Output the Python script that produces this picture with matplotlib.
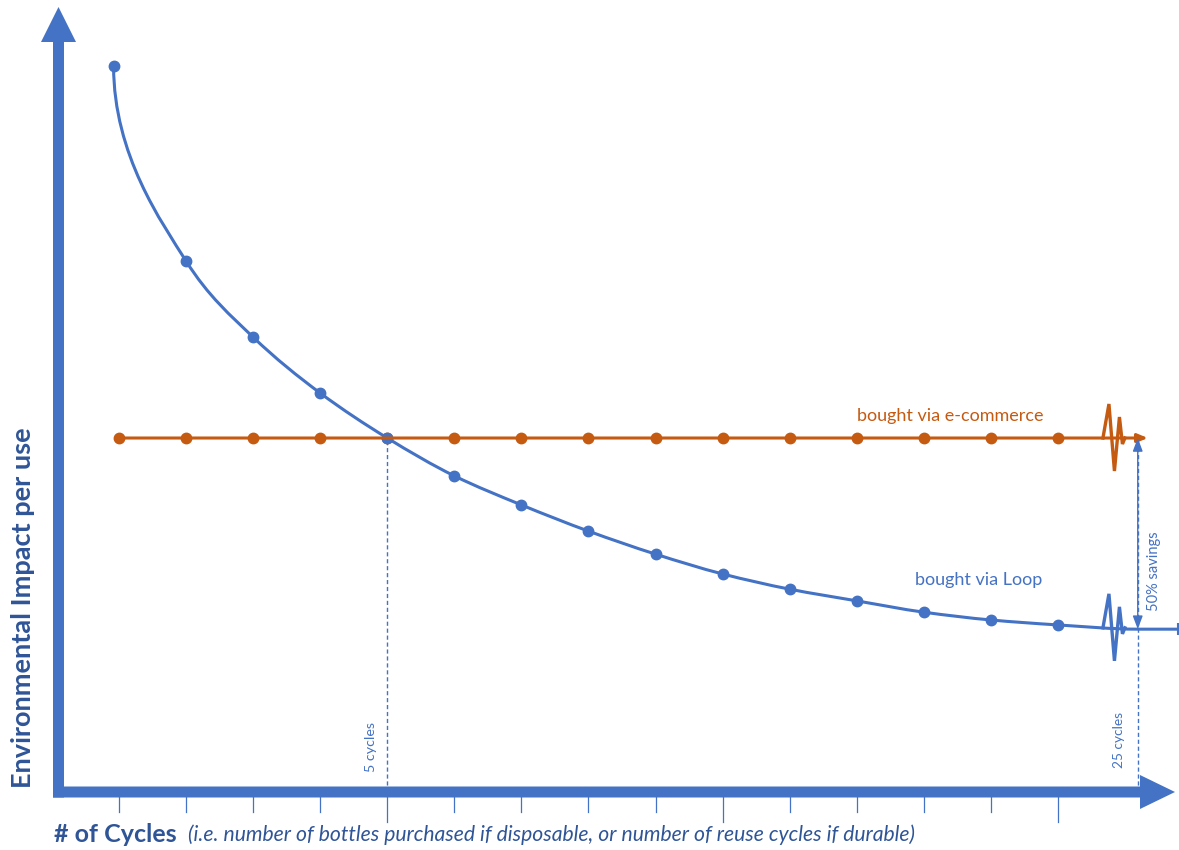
import numpy as np
import matplotlib
matplotlib.use("Agg")
import matplotlib.pyplot as plt
from matplotlib.path import Path
from matplotlib.patches import PathPatch, Polygon
from matplotlib.transforms import Affine2D

# ---- data (impact per use, e-commerce = 1) ----
cycles = [1, 2, 3, 4, 5, 6, 7, 8, 9, 10, 11, 12, 13, 14, 15]
loop_x = [0.92, 2, 3, 4, 5, 6, 7, 8, 9, 10, 11, 12, 13, 14, 15]
loop_impact = [2.05, 1.50, 1.285, 1.127, 1.0, 0.893, 0.811, 0.737, 0.672,
               0.616, 0.573, 0.540, 0.508, 0.486, 0.472]
ecom_impact = [1.0, 1.0, 1.0, 1.0, 1.0, 1.0, 1.0, 1.0, 1.0, 1.0, 1.0, 1.0,
               1.0, 1.0, 1.0]
far_cycle_label = "25 cycles"
far_cycle_pos = 16.19      # 25 cycles sits here, after the axis break
loop_far = 0.46
ecom_far = 1.0
break_pos = 15.82
even_cycle = 5

BLUE = "#4472C4"
ORANGE = "#C55A11"
DARK = "#2F5597"
W, H = 1179, 850

plt.rcParams['font.family'] = ['Lato', 'DejaVu Sans']

fig = plt.figure(figsize=(W / 100, H / 100), dpi=100)
ax = fig.add_axes([0, 0, 1, 1])
ax.axis('off')
ax.set_xlim(-0.7738, 16.805)
ax.set_ylim(-0.1638, 2.2373)

# pixel coords measured from top-left, for the decoration
pix = Affine2D().scale(1, -1).translate(0, H)

# thick axis arrows
yarrow = [(53, 797.5), (53, 42), (41, 42), (58.5, 7), (76, 42), (64, 42), (64, 797.5)]
xarrow = [(53, 786.5), (1140, 786.5), (1140, 775), (1175, 792), (1140, 809),
          (1140, 797.5), (53, 797.5)]
for p in (yarrow, xarrow):
    ax.add_patch(Polygon(p, closed=True, color=BLUE, transform=pix, lw=0))

# ticks under x axis, longer every 5
xt = ax.get_xaxis_transform()
for c in cycles:
    low = 0.0329 if c % 5 == 0 else 0.0447
    ax.plot([c, c], [0.0624, low], color=BLUE, lw=0.9, transform=xt)

# dashed guides
ax.plot([even_cycle, even_cycle], [0, ecom_impact[cycles.index(even_cycle)]],
        color=BLUE, lw=1.0, ls=(0, (3, 2)))
ax.plot([far_cycle_pos, far_cycle_pos], [0, ecom_far], color=BLUE, lw=1.0,
        ls=(0, (3, 2)))

# e-commerce line
ax.annotate('', xy=(16.34, ecom_far), xytext=(cycles[0], ecom_far),
            arrowprops=dict(arrowstyle='-|>,head_length=0.6,head_width=0.25',
                            color=ORANGE, lw=2.2, shrinkA=0, shrinkB=0))
ax.plot(cycles, ecom_impact, 'o', color=ORANGE, ms=7.5)

# Loop curve: monotone cubic (bezier) through the points, flat at the far end
px_ = np.array(loop_x + [far_cycle_pos])
py_ = np.array(loop_impact + [loop_far])
h = np.diff(px_)
d = np.diff(py_) / h
m = np.zeros_like(py_)
for k in range(1, len(py_) - 1):
    if d[k - 1] * d[k] > 0:
        w1 = 2 * h[k] + h[k - 1]
        w2 = h[k] + 2 * h[k - 1]
        m[k] = (w1 + w2) / (w1 / d[k - 1] + w2 / d[k])
verts = [(px_[0], py_[0])]
codes = [Path.MOVETO]
for k in range(len(px_) - 1):
    if k == 0:
        c1 = (px_[0], py_[0] - 0.25)          # starts straight down
    else:
        c1 = (px_[k] + h[k] / 3, py_[k] + m[k] * h[k] / 3)
    c2 = (px_[k + 1] - h[k] / 3, py_[k + 1] - m[k + 1] * h[k] / 3)
    verts += [c1, c2, (px_[k + 1], py_[k + 1])]
    codes += [Path.CURVE4] * 3
verts.append((16.79, loop_far))
codes.append(Path.LINETO)
curve = Path(verts, codes)
ax.add_patch(PathPatch(curve, fill=False, color=BLUE, lw=2.2))
ax.plot(loop_x, loop_impact, 'o', color=BLUE, ms=7.5)
ax.plot([16.79], [loop_far], marker='|', ms=8, mew=1.5, color=BLUE, clip_on=False)

# savings arrow
ax.annotate('', xy=(far_cycle_pos, loop_far), xytext=(far_cycle_pos, ecom_far),
            arrowprops=dict(arrowstyle='<|-|>,head_length=0.8,head_width=0.3',
                            color=BLUE, lw=1.0, shrinkA=0, shrinkB=0))

# axis-break zigzags
zx = [-10, -4, 1.5, 6.5, 9.5, 12]
zy = [0, -34, 33, -21, 6, 0]
blue_at_break = np.interp(break_pos, px_, py_)
for yv, col in ((ecom_far, ORANGE), (blue_at_break, BLUE)):
    cx, cy = ax.transData.transform((break_pos, yv))
    ax.plot(zx, zy, color=col, lw=2.4, solid_joinstyle='miter',
            transform=Affine2D().scale(1, -1).translate(cx, cy))

# texts
ax.text(857, 416, "bought via e-commerce", color=ORANGE, fontsize=13,
        va='center', ha='left', transform=pix)
ax.text(915, 580, "bought via Loop", color=BLUE, fontsize=13,
        va='center', ha='left', transform=pix)
ax.text(371, 747, "5 cycles", color=BLUE, fontsize=10.3, rotation=90,
        va='center', ha='center', transform=pix)
ax.text(1119, 740, far_cycle_label, color=BLUE, fontsize=9.8, rotation=90,
        va='center', ha='center', transform=pix)
ax.text(1154, 571, "50% savings", color=BLUE, fontsize=10.5, rotation=90,
        va='center', ha='center', transform=pix)
ax.text(23, 608, "Environmental Impact per use", color=DARK, fontsize=19.5,
        fontweight='bold', rotation=90, va='center', ha='center', transform=pix)
ax.text(54, 834, "# of Cycles", color=DARK, fontsize=18, fontweight='bold',
        va='center', ha='left', transform=pix)
ax.text(188, 835, "(i.e. number of bottles purchased if disposable, or number of reuse cycles if durable)",
        color=DARK, fontsize=15.2, style='italic', va='center', ha='left', transform=pix)

plt.savefig("out.png", dpi=100)
